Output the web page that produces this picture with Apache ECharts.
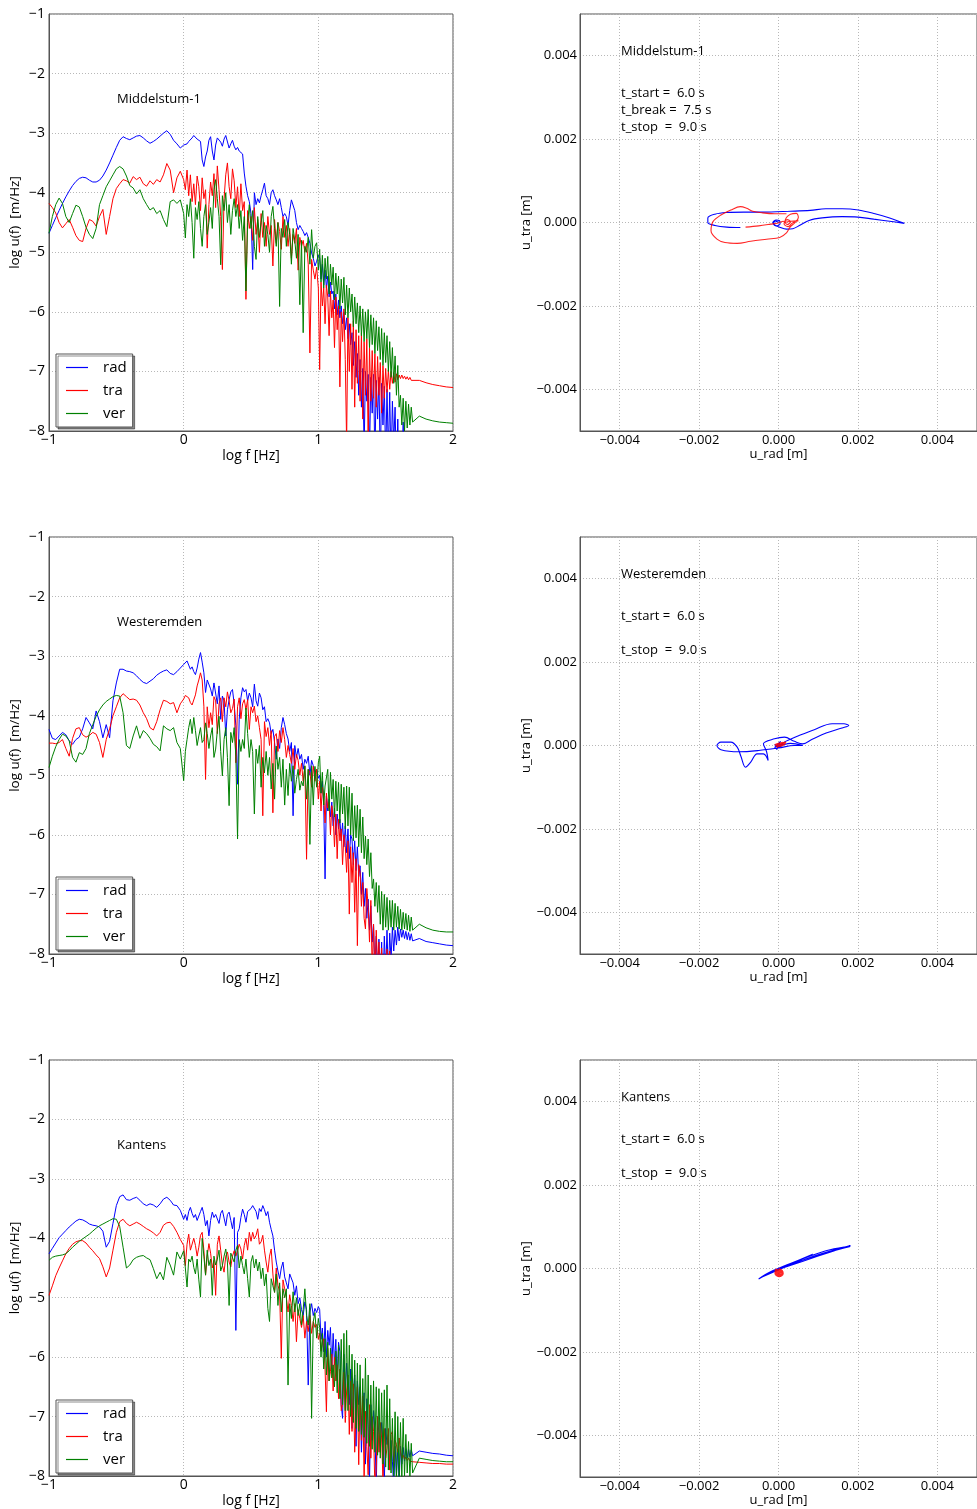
<!DOCTYPE html>
<html>
<head>
<meta charset="utf-8">
<title>Spectra and particle motion</title>
<script src="https://cdn.jsdelivr.net/npm/echarts@6/dist/echarts.min.js"></script>
<style>
  html, body { margin: 0; padding: 0; background: #fff; }
  #chart { width: 977px; height: 1509px; }
</style>
</head>
<body>
<div id="chart"></div>
<script>
// Station names and time windows
const stations = ['Middelstum-1', 'Westeremden', 'Kantens'];
const windowLines = [
  ['t_start =  6.0 s', 't_break =  7.5 s', 't_stop  =  9.0 s'],
  ['t_start =  6.0 s', '', 't_stop  =  9.0 s'],
  ['t_start =  6.0 s', '', 't_stop  =  9.0 s']
];
const componentNames = ['rad', 'tra', 'ver'];
const componentColors = ['#0000ff', '#ff0000', '#008000'];

// Frequency samples, log10 f [Hz]
const logF = [
  -1,-0.975,-0.95,-0.925,-0.9,-0.875,-0.85,-0.825,-0.8,-0.775,
  -0.75,-0.725,-0.7,-0.675,-0.65,-0.625,-0.6,-0.575,-0.55,-0.525,
  -0.5,-0.475,-0.45,-0.425,-0.4,-0.375,-0.35,-0.325,-0.3,-0.275,
  -0.25,-0.225,-0.2,-0.175,-0.15,-0.125,-0.1,-0.075,-0.05,-0.025,0,
  0.0125,0.025,0.0375,0.05,0.0625,0.075,0.0875,0.1,0.1125,0.125,
  0.1375,0.15,0.1625,0.175,0.1875,0.2,0.2125,0.225,0.2375,0.25,
  0.2625,0.275,0.2875,0.3,0.3125,0.325,0.3375,0.35,0.3625,0.375,
  0.3875,0.4,0.4125,0.425,0.4375,0.45,0.4625,0.475,0.4875,0.5,
  0.5125,0.525,0.5375,0.55,0.5625,0.575,0.5875,0.6,0.6125,0.625,
  0.6375,0.65,0.6625,0.675,0.6875,0.7,0.7125,0.725,0.7375,0.75,
  0.7625,0.775,0.7875,0.8,0.8125,0.825,0.8375,0.85,0.8625,0.875,
  0.8875,0.9,0.9125,0.925,0.9375,0.95,0.9625,0.975,0.9875,1.0,
  1.01,1.02,1.03,1.04,1.05,1.06,1.07,1.08,1.09,1.10,
  1.11,1.12,1.13,1.14,1.15,1.16,1.17,1.18,1.19,1.20,
  1.21,1.22,1.23,1.24,1.25,1.26,1.27,1.28,1.29,1.30,
  1.31,1.32,1.33,1.34,1.35,1.36,1.37,1.38,1.39,1.40,
  1.41,1.42,1.43,1.44,1.45,1.46,1.47,1.48,1.49,1.50,
  1.51,1.52,1.53,1.54,1.55,1.56,1.57,1.58,1.59,1.60,
  1.61,1.62,1.63,1.64,1.65,1.66,1.67,1.68,1.69,1.70,
  1.75,1.8,1.85,1.9,1.95,2.0
];

// log10 amplitude spectra, one value per logF sample
const middelstumRad = [
  -4.68,-4.55,-4.42,-4.30,-4.18,-4.07,-3.97,-3.88,-3.81,-3.76,
  -3.74,-3.75,-3.79,-3.82,-3.82,-3.79,-3.72,-3.62,-3.50,-3.37,
  -3.24,-3.12,-3.06,-3.09,-3.11,-3.08,-3.05,-3.04,-3.08,-3.13,
  -3.17,-3.14,-3.10,-3.05,-3.00,-2.96,-3.02,-3.12,-3.18,-3.25,-3.20,
  -3.22,-3.18,-3.14,-3.17,-3.08,-3.04,-3.06,-3.10,-3.12,-3.14,
  -3.45,-3.56,-3.40,-3.30,-3.12,-3.06,-3.30,-3.45,-3.20,-3.08,
  -3.06,-3.15,-3.22,-3.10,-3.04,-3.06,-3.25,-3.18,-3.12,-3.22,
  -3.28,-3.24,-3.30,-3.28,-3.35,-3.67,-3.89,-4.05,-4.15,-4.35,
  -5.29,-4.00,-4.20,-4.10,-4.17,-4.05,-3.95,-3.84,-4.05,-4.10,
  -4.20,-4.00,-3.95,-4.05,-4.12,-4.20,-4.10,-4.25,-4.40,-4.35,
  -4.40,-4.55,-4.30,-4.12,-4.15,-4.30,-4.50,-4.62,-4.55,-4.60,
  -4.65,-4.72,-4.67,-4.75,-4.85,-5.01,-5.10,-5.23,-5.15,-5.05,
  -5.10,-5.45,-5.20,-5.55,-5.30,-5.60,-5.40,-5.75,-5.50,-5.70,
  -5.65,-5.95,-5.70,-6.05,-5.80,-6.10,-5.90,-6.20,-6.00,-6.30,
  -6.10,-6.45,-6.20,-6.55,-6.35,-6.90,-6.50,-7.10,-6.70,-7.40,
  -6.80,-7.60,-6.95,-8.30,-7.00,-7.50,-7.05,-8.40,-7.10,-7.70,
  -7.05,-8.50,-7.15,-7.80,-7.10,-8.60,-7.20,-7.90,-7.25,-8.50,
  -7.30,-8.40,-7.35,-8.60,-7.50,-8.20,-7.60,-8.70,-7.80,-8.80,
  -8.30,-8.80,-7.85,-8.90,-8.60,-9.00,-8.80,-9.00,-9.00,-9.00,
  -9.00,-9.00,-9.00,-9.00,-9.00,-9.00
];
const middelstumTra = [
  -4.18,-4.25,-4.34,-4.50,-4.59,-4.52,-4.45,-4.58,-4.72,-4.80,
  -4.82,-4.60,-4.45,-4.48,-4.56,-4.40,-4.28,-4.70,-4.40,-4.10,
  -3.93,-3.85,-3.78,-3.80,-3.84,-3.73,-3.78,-3.74,-3.85,-3.89,
  -3.80,-3.86,-3.78,-3.82,-3.70,-3.51,-3.62,-4.00,-3.75,-3.64,-3.78,
  -3.95,-3.62,-4.05,-3.70,-4.15,-3.85,-4.20,-3.72,-3.90,-4.30,
  -3.75,-4.10,-3.95,-4.93,-4.20,-3.82,-4.05,-3.68,-4.25,-3.55,
  -3.95,-4.40,-5.29,-4.10,-3.70,-3.50,-3.90,-4.10,-3.60,-3.80,
  -4.25,-3.90,-4.40,-3.85,-4.30,-4.15,-5.79,-4.30,-4.60,-4.40,
  -4.80,-4.25,-4.70,-4.45,-5.00,-4.35,-4.75,-4.50,-4.90,-4.40,
  -4.70,-4.55,-5.23,-4.45,-4.85,-4.50,-4.65,-4.95,-4.40,-4.75,
  -4.55,-4.90,-4.60,-5.10,-4.70,-4.85,-4.60,-5.30,-4.75,-4.90,
  -4.80,-5.00,-4.85,-5.20,-6.69,-5.12,-5.30,-5.45,-5.25,-5.60,
  -6.97,-5.50,-5.90,-5.60,-6.20,-5.55,-5.75,-6.40,-5.65,-6.10,
  -5.80,-6.60,-5.75,-6.30,-5.90,-7.26,-6.00,-6.50,-5.95,-6.80,
  -8.20,-6.10,-7.00,-6.20,-7.30,-6.15,-7.60,-6.30,-7.20,-6.40,
  -7.50,-6.35,-7.80,-6.50,-7.40,-6.45,-8.20,-6.60,-7.50,-6.65,
  -7.45,-6.70,-7.60,-6.75,-7.40,-6.85,-7.70,-6.90,-7.45,-6.95,
  -7.35,-6.98,-7.30,-7.00,-7.20,-7.02,-7.18,-7.04,-7.14,-7.06,
  -7.12,-7.06,-7.12,-7.08,-7.13,-7.09,-7.14,-7.10,-7.15,-7.12,
  -7.15,-7.19,-7.22,-7.24,-7.26,-7.27
];
const middelstumVer = [
  -4.68,-4.40,-4.20,-4.09,-4.18,-4.40,-4.50,-4.35,-4.21,-4.24,
  -4.40,-4.58,-4.70,-4.77,-4.60,-4.20,-4.05,-3.90,-3.80,-3.70,
  -3.60,-3.56,-3.60,-3.72,-3.88,-3.92,-4.02,-3.95,-4.10,-4.20,
  -4.29,-4.25,-4.35,-4.30,-4.45,-4.57,-4.15,-4.12,-4.18,-4.12,-4.35,
  -4.76,-4.20,-4.40,-4.10,-4.50,-5.10,-4.25,-4.45,-4.15,-4.60,
  -4.90,-4.40,-4.20,-4.70,-4.50,-4.25,-4.60,-3.95,-3.78,-4.10,
  -4.40,-5.21,-4.05,-4.30,-4.00,-4.50,-4.20,-4.70,-4.30,-4.10,
  -4.40,-4.20,-4.60,-4.30,-4.80,-4.40,-5.65,-4.50,-4.20,-4.60,
  -4.30,-4.90,-5.12,-4.40,-4.75,-4.50,-4.30,-4.90,-4.55,-4.70,
  -5.00,-4.40,-4.23,-4.60,-4.90,-4.50,-5.91,-4.60,-4.75,-4.45,
  -4.90,-4.50,-4.70,-5.20,-4.60,-4.80,-5.10,-4.70,-5.88,-4.80,
  -6.35,-4.90,-5.00,-4.75,-5.20,-4.62,-5.10,-4.90,-4.84,-5.30,
  -4.95,-5.50,-5.05,-5.60,-5.10,-5.45,-5.07,-5.70,-5.20,-5.55,
  -5.25,-5.80,-5.35,-5.70,-5.40,-5.95,-5.45,-5.85,-5.42,-6.05,
  -5.55,-6.10,-5.60,-6.00,-5.70,-6.25,-5.75,-6.20,-5.85,-6.35,
  -5.90,-6.40,-5.95,-6.50,-6.00,-6.45,-5.96,-6.60,-6.05,-6.55,
  -6.10,-6.70,-6.15,-6.65,-6.25,-6.80,-6.28,-6.90,-6.35,-6.85,
  -6.40,-7.00,-6.50,-7.10,-6.60,-7.20,-6.74,-7.40,-6.90,-7.60,
  -7.40,-7.90,-7.45,-8.00,-7.50,-7.95,-7.55,-7.90,-7.60,-7.85,
  -7.75,-7.80,-7.83,-7.85,-7.86,-7.87
];

const westeremdenRad = [
  -4.23,-4.38,-4.40,-4.34,-4.28,-4.32,-4.42,-4.48,-4.40,-4.36,
  -4.22,-4.03,-4.12,-4.22,-3.92,-4.10,-4.37,-4.15,-4.37,-3.75,
  -3.45,-3.22,-3.22,-3.25,-3.26,-3.28,-3.33,-3.39,-3.44,-3.46,
  -3.42,-3.38,-3.32,-3.28,-3.25,-3.23,-3.29,-3.31,-3.26,-3.20,-3.14,
  -3.12,-3.08,-3.15,-3.22,-3.18,-3.26,-3.31,-3.20,-3.05,-2.94,
  -3.10,-3.28,-3.61,-3.40,-3.39,-3.55,-3.67,-3.45,-3.42,-3.80,
  -3.50,-4.06,-3.67,-3.75,-4.34,-3.90,-3.73,-3.60,-3.56,-3.80,
  -4.17,-5.15,-4.06,-3.70,-3.53,-3.60,-3.56,-3.75,-3.62,-3.70,
  -3.85,-3.47,-3.75,-3.84,-3.62,-3.70,-3.90,-3.85,-4.10,-4.05,
  -4.12,-4.30,-4.23,-4.45,-4.73,-4.39,-4.55,-4.20,-4.03,-4.15,
  -4.30,-4.39,-4.60,-4.45,-5.68,-4.50,-4.70,-4.55,-4.73,-4.65,
  -4.90,-4.73,-4.80,-4.68,-5.00,-4.75,-4.84,-4.95,-4.90,-5.05,
  -5.00,-5.30,-5.10,-5.51,-6.74,-5.35,-5.60,-5.40,-5.70,-5.45,
  -5.85,-5.55,-6.00,-5.65,-5.90,-5.74,-6.10,-5.80,-6.20,-5.85,
  -6.30,-5.90,-6.40,-6.00,-6.07,-6.50,-6.10,-6.60,-6.20,-6.70,
  -6.52,-7.00,-6.63,-7.20,-6.90,-7.40,-7.08,-7.60,-7.19,-7.80,
  -7.50,-8.30,-7.70,-8.40,-7.75,-8.50,-7.80,-8.60,-7.70,-8.30,
  -7.60,-8.40,-7.65,-8.10,-7.55,-7.95,-7.60,-7.85,-7.55,-7.78,
  -7.58,-7.72,-7.60,-7.74,-7.62,-7.76,-7.64,-7.77,-7.66,-7.78,
  -7.74,-7.79,-7.81,-7.83,-7.85,-7.86
];
const westeremdenTra = [
  -4.46,-4.46,-4.47,-4.45,-4.40,-4.55,-4.68,-4.38,-4.22,-4.20,
  -4.32,-4.36,-4.33,-4.28,-4.31,-4.45,-4.70,-4.40,-4.22,-4.00,
  -3.85,-3.70,-3.63,-3.68,-3.73,-3.72,-3.74,-3.82,-3.95,-4.05,
  -4.20,-4.24,-4.10,-3.90,-3.74,-3.76,-3.80,-3.78,-3.95,-3.80,-3.72,
  -3.66,-3.64,-3.70,-3.78,-3.82,-3.84,-3.65,-3.50,-3.40,-3.28,
  -3.40,-3.84,-5.07,-3.85,-4.20,-3.95,-4.15,-3.68,-3.75,-4.30,
  -3.80,-3.70,-4.10,-3.70,-3.85,-3.60,-3.75,-3.95,-3.88,-3.72,
  -4.79,-3.85,-3.70,-4.05,-3.80,-3.73,-3.90,-3.73,-4.23,-3.85,
  -3.95,-3.84,-4.10,-4.00,-4.20,-4.40,-5.68,-4.10,-4.35,-4.20,
  -4.50,-4.25,-5.63,-4.35,-4.30,-4.60,-4.25,-4.45,-4.20,-4.40,
  -4.70,-4.50,-4.65,-4.80,-4.55,-4.90,-4.65,-4.75,-5.00,-4.80,
  -5.10,-4.85,-6.41,-4.90,-4.95,-5.20,-4.85,-5.10,-4.90,-5.40,
  -5.10,-5.60,-5.20,-5.35,-5.80,-5.30,-5.55,-5.45,-6.00,-5.51,
  -5.70,-6.20,-5.65,-6.40,-5.74,-6.10,-5.90,-6.50,-6.00,-6.18,
  -6.63,-6.10,-7.33,-6.20,-6.80,-6.30,-7.30,-6.40,-7.86,-6.50,
  -6.63,-7.20,-6.80,-7.40,-7.58,-6.90,-7.20,-7.80,-7.10,-8.30,
  -7.50,-8.40,-7.60,-8.20,-7.80,-8.50,-7.90,-8.60,-8.00,-8.40,
  -7.92,-8.50,-7.95,-8.60,-8.40,-8.80,-8.50,-8.80,-8.60,-9.00,
  -9.00,-9.00,-9.00,-9.00,-9.00,-9.00,-9.00,-9.00,-9.00,-9.00,
  -9.00,-9.00,-9.00,-9.00,-9.00,-9.00
];
const westeremdenVer = [
  -4.87,-4.68,-4.52,-4.40,-4.31,-4.34,-4.42,-4.70,-4.78,-4.62,
  -4.65,-4.55,-4.30,-4.15,-4.01,-3.90,-3.82,-3.76,-3.72,-3.68,
  -3.66,-3.67,-3.95,-4.50,-4.55,-4.34,-4.17,-4.38,-4.25,-4.30,
  -4.38,-4.48,-4.52,-4.59,-4.17,-4.22,-4.25,-4.20,-4.45,-4.55,-5.09,
  -4.60,-4.40,-4.20,-4.06,-4.30,-4.03,-4.25,-4.50,-4.34,-4.20,
  -4.45,-4.40,-4.12,-4.30,-4.55,-4.34,-4.20,-4.70,-4.56,-4.25,
  -4.01,-4.60,-5.01,-4.40,-4.20,-4.70,-5.51,-4.28,-4.45,-4.20,
  -4.68,-6.07,-4.40,-4.60,-4.40,-4.55,-3.87,-4.30,-4.70,-4.40,
  -4.60,-5.65,-4.56,-4.80,-4.50,-5.20,-4.70,-4.96,-4.60,-5.00,
  -4.70,-5.23,-4.80,-5.40,-4.51,-4.90,-4.70,-5.20,-4.73,-5.50,
  -4.90,-5.34,-4.80,-5.10,-4.84,-5.30,-5.07,-4.90,-5.25,-5.10,
  -5.18,-4.84,-5.40,-4.90,-6.16,-4.84,-5.50,-4.85,-5.20,-4.79,
  -4.68,-5.30,-4.95,-5.50,-5.18,-5.20,-4.90,-5.60,-4.95,-5.40,
  -5.07,-5.70,-5.10,-5.60,-5.12,-5.80,-5.15,-5.65,-5.20,-5.90,
  -5.18,-5.85,-5.20,-6.00,-5.30,-6.10,-5.51,-6.05,-5.50,-6.20,
  -5.57,-6.30,-5.70,-6.40,-6.02,-6.50,-6.07,-6.70,-6.30,-6.90,
  -6.74,-7.20,-6.80,-7.30,-6.85,-7.50,-6.95,-7.60,-7.00,-7.55,
  -7.05,-7.60,-7.10,-7.55,-7.10,-7.60,-7.15,-7.55,-7.20,-7.58,
  -7.25,-7.60,-7.30,-7.58,-7.32,-7.60,-7.35,-7.62,-7.38,-7.60,
  -7.50,-7.56,-7.60,-7.62,-7.63,-7.63
];

const kantensRad = [
  -4.26,-4.17,-4.08,-3.99,-3.93,-3.87,-3.81,-3.76,-3.71,-3.68,
  -3.69,-3.72,-3.76,-3.78,-3.79,-3.81,-3.88,-4.15,-4.05,-3.75,
  -3.45,-3.30,-3.27,-3.35,-3.36,-3.33,-3.31,-3.36,-3.42,-3.45,
  -3.42,-3.44,-3.48,-3.42,-3.34,-3.31,-3.36,-3.44,-3.45,-3.53,-3.68,
  -3.60,-3.70,-3.55,-3.48,-3.58,-3.65,-3.60,-3.70,-3.68,-3.55,
  -3.48,-3.60,-3.79,-3.70,-3.96,-3.70,-3.56,-3.65,-3.60,-3.62,
  -3.75,-3.58,-3.53,-3.66,-3.79,-3.60,-3.56,-3.70,-3.84,-3.65,
  -5.55,-3.90,-3.84,-3.65,-3.51,-3.60,-3.73,-3.55,-3.56,-3.50,
  -3.45,-3.42,-3.55,-3.68,-3.50,-3.55,-3.45,-3.52,-3.62,-3.55,
  -3.73,-3.85,-3.96,-4.20,-4.40,-4.55,-4.68,-4.50,-4.40,-4.65,
  -4.75,-4.85,-4.60,-4.57,-4.75,-4.96,-4.80,-5.10,-5.00,-5.20,
  -5.30,-5.07,-5.20,-6.47,-5.24,-5.10,-5.30,-5.18,-5.25,-5.15,
  -5.20,-5.70,-5.51,-5.91,-5.40,-6.00,-5.55,-5.80,-5.50,-6.20,
  -5.60,-6.13,-5.70,-6.40,-5.75,-5.91,-6.80,-7.03,-5.95,-6.60,
  -6.10,-6.47,-6.80,-6.20,-7.20,-6.58,-6.30,-7.50,-6.40,-6.80,
  -6.50,-7.60,-6.91,-6.60,-7.80,-6.70,-7.14,-8.10,-6.80,-7.40,
  -6.90,-7.25,-8.20,-7.00,-7.30,-7.60,-7.10,-7.53,-8.10,-7.20,
  -7.47,-7.30,-7.90,-7.40,-7.75,-8.20,-7.50,-7.98,-7.55,-8.10,
  -7.50,-7.80,-7.52,-7.75,-7.54,-7.70,-7.55,-7.68,-7.56,-7.66,
  -7.58,-7.60,-7.62,-7.63,-7.65,-7.66
];
const kantensTra = [
  -4.96,-4.80,-4.63,-4.50,-4.38,-4.26,-4.17,-4.10,-4.06,-4.04,
  -4.04,-4.08,-4.15,-4.21,-4.28,-4.34,-4.48,-4.65,-4.50,-4.20,
  -3.90,-3.72,-3.68,-3.75,-3.79,-3.76,-3.73,-3.76,-3.80,-3.84,
  -3.87,-3.91,-3.96,-3.90,-3.78,-3.74,-3.73,-3.80,-3.90,-4.02,-4.12,
  -4.46,-4.10,-3.93,-4.20,-4.21,-4.00,-4.12,-4.30,-4.15,-3.95,
  -3.90,-4.20,-4.62,-4.30,-4.09,-4.25,-4.50,-4.37,-4.96,-4.10,
  -3.96,-4.20,-4.45,-4.57,-4.30,-4.23,-4.40,-4.48,-4.30,-4.21,
  -4.30,-4.21,-4.10,-4.18,-4.35,-4.12,-4.00,-4.20,-3.90,-4.05,
  -3.90,-4.01,-3.95,-3.84,-4.10,-4.06,-3.95,-4.20,-4.40,-4.57,
  -4.30,-4.18,-4.60,-4.91,-4.50,-4.79,-4.90,-6.02,-4.70,-4.85,
  -5.00,-5.24,-4.95,-5.13,-5.40,-5.10,-5.74,-5.20,-5.35,-5.50,
  -5.30,-5.68,-5.40,-5.57,-5.30,-5.60,-5.40,-5.50,-5.45,-5.70,
  -5.60,-5.90,-5.75,-5.69,-6.20,-6.92,-5.85,-6.40,-6.24,-5.95,
  -6.57,-6.00,-6.40,-6.13,-6.70,-6.20,-6.90,-6.80,-6.25,-7.10,
  -6.57,-6.30,-7.30,-6.40,-7.25,-6.45,-7.60,-6.91,-6.50,-7.81,
  -6.60,-7.40,-6.65,-8.10,-6.91,-7.50,-7.98,-6.80,-7.70,-7.00,
  -7.25,-8.20,-7.87,-7.00,-7.60,-7.10,-7.36,-8.10,-7.20,-7.70,
  -7.53,-7.20,-7.90,-7.30,-7.25,-7.80,-7.40,-7.47,-7.60,-7.36,
  -7.60,-7.70,-7.65,-7.72,-7.68,-7.74,-7.70,-7.75,-7.72,-7.76,
  -7.77,-7.78,-7.79,-7.79,-7.80,-7.80
];
const kantensVer = [
  -4.37,-4.32,-4.30,-4.29,-4.28,-4.26,-4.21,-4.15,-4.10,-4.05,
  -4.01,-3.97,-3.93,-3.88,-3.83,-3.79,-3.76,-3.73,-3.70,-3.67,
  -3.68,-3.80,-4.15,-4.50,-4.45,-4.36,-4.32,-4.30,-4.29,-4.33,
  -4.36,-4.51,-4.68,-4.57,-4.70,-4.32,-4.45,-4.62,-4.23,-4.35,-4.21,
  -4.50,-4.82,-4.35,-4.40,-4.30,-4.49,-4.60,-4.35,-4.70,-4.99,
  -4.00,-4.30,-4.62,-4.20,-4.46,-4.35,-4.96,-4.30,-4.45,-4.35,
  -4.20,-4.55,-4.46,-4.30,-4.18,-4.40,-5.13,-4.25,-4.23,-4.40,
  -4.20,-4.12,-4.50,-4.30,-4.46,-4.60,-4.35,-4.68,-4.99,-4.40,
  -4.29,-4.50,-4.35,-4.55,-4.40,-4.68,-4.50,-4.80,-4.60,-5.18,
  -5.40,-4.68,-4.80,-4.91,-4.60,-5.13,-4.75,-5.24,-4.85,-5.00,
  -4.85,-6.47,-5.10,-5.35,-4.90,-5.24,-5.00,-5.30,-5.10,-5.46,
  -5.20,-4.85,-5.30,-5.46,-5.10,-7.03,-5.40,-5.25,-5.68,-5.35,
  -5.50,-6.00,-5.60,-6.20,-5.69,-6.30,-5.75,-6.40,-5.85,-6.35,
  -6.13,-6.50,-5.90,-6.60,-5.80,-6.70,-5.70,-6.80,-5.60,-6.90,
  -5.55,-6.90,-5.80,-7.00,-5.95,-7.10,-6.05,-7.20,-6.10,-7.25,
  -6.13,-7.30,-6.36,-7.35,-6.02,-7.45,-6.30,-7.50,-6.47,-7.55,
  -6.40,-7.60,-6.50,-7.65,-6.53,-7.70,-6.60,-7.80,-6.55,-7.85,
  -6.47,-7.90,-6.70,-7.95,-7.03,-8.00,-6.92,-8.10,-7.00,-8.10,
  -7.10,-8.05,-7.03,-8.00,-7.30,-7.95,-7.42,-8.00,-7.45,-7.95,
  -7.70,-7.72,-7.74,-7.75,-7.76,-7.76
];

// Particle motion, [u_rad, u_tra] in metres
const middelstumMotionA = [
  [0,0],[-0.08e-3,0.04e-3],[-0.12e-3,-0.02e-3],[-0.05e-3,-0.08e-3],[0.04e-3,-0.03e-3],
  [0.02e-3,0.05e-3],[-0.06e-3,0.06e-3],[-0.14e-3,0],[-0.10e-3,-0.07e-3],[0,-0.10e-3],
  [0.2e-3,-0.16e-3],[0.36e-3,-0.15e-3],[0.55e-3,-0.06e-3],[0.77e-3,0.05e-3],[1.1e-3,0.11e-3],
  [1.6e-3,0.14e-3],[2.0e-3,0.13e-3],[2.4e-3,0.08e-3],[2.8e-3,0.03e-3],[3.17e-3,-0.02e-3],
  [2.8e-3,0.11e-3],[2.43e-3,0.21e-3],[2.01e-3,0.30e-3],[1.6e-3,0.33e-3],[1.19e-3,0.33e-3],
  [0.8e-3,0.29e-3],[0.3e-3,0.27e-3],[-0.4e-3,0.25e-3],[-0.87e-3,0.25e-3],[-1.3e-3,0.24e-3],
  [-1.6e-3,0.2e-3],[-1.78e-3,0.11e-3],[-1.78e-3,0],[-1.6e-3,-0.07e-3],[-1.3e-3,-0.11e-3],
  [-0.96e-3,-0.12e-3]
];
const middelstumMotionB = [
  [-0.83e-3,-0.11e-3],[-0.5e-3,-0.08e-3],[-0.2e-3,-0.04e-3],[0,-0.01e-3],[0.12e-3,0.03e-3],
  [0.22e-3,-0.05e-3],[0.3e-3,0.02e-3],[0.22e-3,0.07e-3],[0.14e-3,-0.03e-3],[0.24e-3,-0.1e-3],
  [0.34e-3,-0.02e-3],[0.5e-3,0.04e-3],[0.3e-3,0.03e-3],[0.15e-3,0],[0.2e-3,0.12e-3],
  [0.3e-3,0.2e-3],[0.45e-3,0.22e-3],[0.5e-3,0.12e-3],[0.42e-3,0],[0.3e-3,-0.1e-3],
  [0.2e-3,-0.25e-3],[0.03e-3,-0.36e-3],[-0.3e-3,-0.4e-3],[-0.7e-3,-0.45e-3],[-1.04e-3,-0.5e-3],
  [-1.35e-3,-0.48e-3],[-1.55e-3,-0.4e-3],[-1.7e-3,-0.2e-3],[-1.65e-3,0.02e-3],[-1.45e-3,0.18e-3],
  [-1.2e-3,0.3e-3],[-0.96e-3,0.38e-3],[-0.8e-3,0.34e-3],[-0.65e-3,0.27e-3],[-0.4e-3,0.23e-3],
  [-0.1e-3,0.21e-3],[0.2e-3,0.21e-3]
];
const westeremdenMotionA = [
  [0,0],[0.1e-3,0.05e-3],[-0.1e-3,-0.05e-3],[0.05e-3,0.1e-3],[-0.05e-3,-0.1e-3],
  [0.15e-3,0.08e-3],[0.3e-3,0.15e-3],[0.52e-3,0.24e-3],[0.9e-3,0.38e-3],[1.35e-3,0.52e-3],
  [1.65e-3,0.52e-3],[1.77e-3,0.48e-3],[1.6e-3,0.42e-3],[1.2e-3,0.3e-3],[0.85e-3,0.15e-3],
  [0.61e-3,0.04e-3],[0.4e-3,0.1e-3],[0.15e-3,0.2e-3],[-0.1e-3,0.16e-3],[-0.38e-3,0.04e-3],
  [-0.3e-3,-0.15e-3],[-0.26e-3,-0.36e-3],[-0.38e-3,-0.2e-3],[-0.54e-3,-0.2e-3],[-0.7e-3,-0.4e-3],
  [-0.83e-3,-0.52e-3],[-0.95e-3,-0.25e-3],[-1.04e-3,-0.04e-3],[-1.2e-3,0.08e-3],[-1.45e-3,0.08e-3],
  [-1.55e-3,0],[-1.45e-3,-0.1e-3],[-1.0e-3,-0.15e-3],[-0.5e-3,-0.12e-3],[0,-0.06e-3],
  [0.4e-3,0],[0.61e-3,0],[0.3e-3,0.05e-3],[0,0],[-0.1e-3,0.02e-3],[0.1e-3,-0.04e-3]
];
const westeremdenMotionB = [
  [-0.05e-3,-0.04e-3],[0.1e-3,0.05e-3],[0.18e-3,0.08e-3],[0.08e-3,0],[-0.08e-3,0.02e-3],
  [0.12e-3,0.07e-3],[0.02e-3,-0.02e-3],[0.15e-3,0.03e-3]
];
const kantensMotionA = [
  [0,0],[-0.3e-3,-0.15e-3],[-0.5e-3,-0.25e-3],[-0.2e-3,-0.08e-3],[0.3e-3,0.12e-3],
  [0.86e-3,0.34e-3],[0.3e-3,0.1e-3],[-0.2e-3,-0.1e-3],[-0.45e-3,-0.22e-3],[0,0],
  [0.8e-3,0.3e-3],[1.3e-3,0.45e-3],[1.81e-3,0.53e-3],[1.3e-3,0.4e-3],[0.6e-3,0.2e-3],
  [0,-0.02e-3],[-0.4e-3,-0.2e-3],[0.2e-3,0.05e-3],[0.9e-3,0.3e-3],[1.81e-3,0.55e-3],
  [1.0e-3,0.3e-3],[0.2e-3,0.04e-3],[-0.1e-3,-0.05e-3]
];
const kantensMotionB = [
  [0,-0.02e-3],[0.08e-3,-0.06e-3],[0.1e-3,-0.12e-3],[0.02e-3,-0.18e-3],[-0.07e-3,-0.12e-3],
  [-0.06e-3,-0.04e-3],[0.04e-3,-0.08e-3],[0,-0.14e-3],[-0.04e-3,-0.06e-3],[0.05e-3,-0.1e-3]
];

const spectra = [
  [middelstumRad, middelstumTra, middelstumVer],
  [westeremdenRad, westeremdenTra, westeremdenVer],
  [kantensRad, kantensTra, kantensVer]
];
const motions = [
  [middelstumMotionA, middelstumMotionB],
  [westeremdenMotionA, westeremdenMotionB],
  [kantensMotionA, kantensMotionB]
];
// stroke width of the after-break trace per station (tight knots read as a blob)
const motionWidthB = [1.1, 1.8, 2.6];

// ---- layout ----
const FONT = '"Open Sans", "DejaVu Sans", sans-serif';
const panelTop = [14, 537, 1060];
const panelH = 417;
const leftX = 49, rightX = 580, panelW = 404;

const minus = s => String(s).replace('-', '\u2212');

const grids = [], xAxes = [], yAxes = [], series = [], legends = [], graphics = [];
const gridLine = { show: true, lineStyle: { color: '#b8b8b8', type: [1, 2], width: 1 } };
const frame = { show: true, onZero: false, lineStyle: { color: '#555', width: 1 } };

panelTop.forEach(top => {
  // spectrum panel
  grids.push({ left: leftX, top: top, width: panelW, height: panelH, show: true,
    borderColor: '#555', borderWidth: 1, backgroundColor: '#fff' });
  // particle motion panel
  grids.push({ left: rightX, top: top, width: panelW, height: panelH, show: true,
    borderColor: '#555', borderWidth: 1, backgroundColor: '#fff' });
});

panelTop.forEach((top, p) => {
  const gs = p * 2, gm = p * 2 + 1;
  xAxes[gs] = { type: 'value', gridIndex: gs, min: -1, max: 2, interval: 1,
    name: 'log f [Hz]', nameLocation: 'middle', nameGap: 18,
    nameTextStyle: { fontFamily: FONT, fontSize: 14, color: '#000' },
    axisLine: frame, axisTick: { show: false }, splitLine: gridLine,
    axisLabel: { fontFamily: FONT, fontSize: 14, color: '#000', margin: 2,
      formatter: v => minus(v) } };
  yAxes[gs] = { type: 'value', gridIndex: gs, min: -8, max: -1, interval: 1,
    name: 'log u(f)  [m/Hz]', nameLocation: 'middle', nameGap: 27,
    nameTextStyle: { fontFamily: FONT, fontSize: 13.5, color: '#000' },
    axisLine: frame, axisTick: { show: false }, splitLine: gridLine,
    axisLabel: { fontFamily: FONT, fontSize: 14, color: '#000', margin: 4,
      formatter: v => minus(v) } };
  const fmt3 = v => minus(v.toFixed(3));
  xAxes[gm] = { type: 'value', gridIndex: gm, min: -0.005, max: 0.005, splitNumber: 5,
    name: 'u_rad [m]', nameLocation: 'middle', nameGap: 15,
    nameTextStyle: { fontFamily: FONT, fontSize: 13, color: '#000' },
    axisLine: frame, axisTick: { show: false }, splitLine: gridLine,
    axisLabel: { fontFamily: FONT, fontSize: 13, color: '#000', margin: 3,
      showMinLabel: false, showMaxLabel: false, formatter: fmt3 } };
  yAxes[gm] = { type: 'value', gridIndex: gm, min: -0.005, max: 0.005, splitNumber: 5,
    name: 'u_tra [m]', nameLocation: 'middle', nameGap: 46,
    nameTextStyle: { fontFamily: FONT, fontSize: 13, color: '#000' },
    axisLine: frame, axisTick: { show: false }, splitLine: gridLine,
    axisLabel: { fontFamily: FONT, fontSize: 13, color: '#000', margin: 3,
      showMinLabel: false, showMaxLabel: false, formatter: fmt3 } };

  // spectra
  spectra[p].forEach((vals, c) => {
    series.push({ type: 'line', name: componentNames[c], xAxisIndex: gs, yAxisIndex: gs,
      data: logF.map((f, i) => [f, vals[i]]), symbol: 'none', showSymbol: false, clip: true,
      lineStyle: { color: componentColors[c], width: 1 },
      itemStyle: { color: componentColors[c] }, z: 2 + c });
  });
  // particle motion: before break (blue), after break (red)
  motions[p].forEach((pts, k) => {
    series.push({ type: 'line', name: 'motion' + p + k, xAxisIndex: gm, yAxisIndex: gm,
      data: pts, symbol: 'none', smooth: 0.35, clip: true,
      lineStyle: { color: componentColors[k], width: k === 0 ? 1.1 : motionWidthB[p],
        opacity: k === 0 ? 1 : 0.85 }, z: 3 + k });
  });

  legends.push({ data: componentNames, orient: 'vertical', left: 56, top: top + 340,
    icon: 'rect', itemWidth: 22, itemHeight: 1.2, itemGap: 8, padding: [6, 6, 6, 10],
    selectedMode: false, backgroundColor: '#fff', borderColor: '#555', borderWidth: 1,
    borderRadius: 0, shadowColor: 'rgba(0,0,0,0.45)', shadowOffsetX: 2, shadowOffsetY: 2,
    shadowBlur: 0,
    textStyle: { fontFamily: FONT, fontSize: 15, lineHeight: 14, color: '#000', padding: [0, 0, 0, 10] } });

  // station label in the spectrum panel
  graphics.push({ type: 'text', x: 117, y: top + 85, z: 10,
    style: { text: stations[p], fontFamily: FONT, fontSize: 13, fill: '#000', verticalAlign: 'middle' } });
  // station label and time window in the motion panel
  graphics.push({ type: 'text', x: 621, y: top + 37, z: 10,
    style: { text: stations[p], fontFamily: FONT, fontSize: 13, fill: '#000', verticalAlign: 'middle' } });
  windowLines[p].forEach((t, k) => {
    if (!t) return;
    graphics.push({ type: 'text', x: 621, y: top + 79 + k * 17, z: 10,
      style: { text: t, fontFamily: FONT, fontSize: 13, fill: '#000', verticalAlign: 'middle' } });
  });
});

const chart = echarts.init(document.getElementById('chart'), null, { renderer: 'canvas' });
chart.setOption({
  animation: false,
  backgroundColor: '#fff',
  grid: grids,
  xAxis: xAxes,
  yAxis: yAxes,
  legend: legends,
  series: series,
  graphic: graphics
});
</script>
</body>
</html>
